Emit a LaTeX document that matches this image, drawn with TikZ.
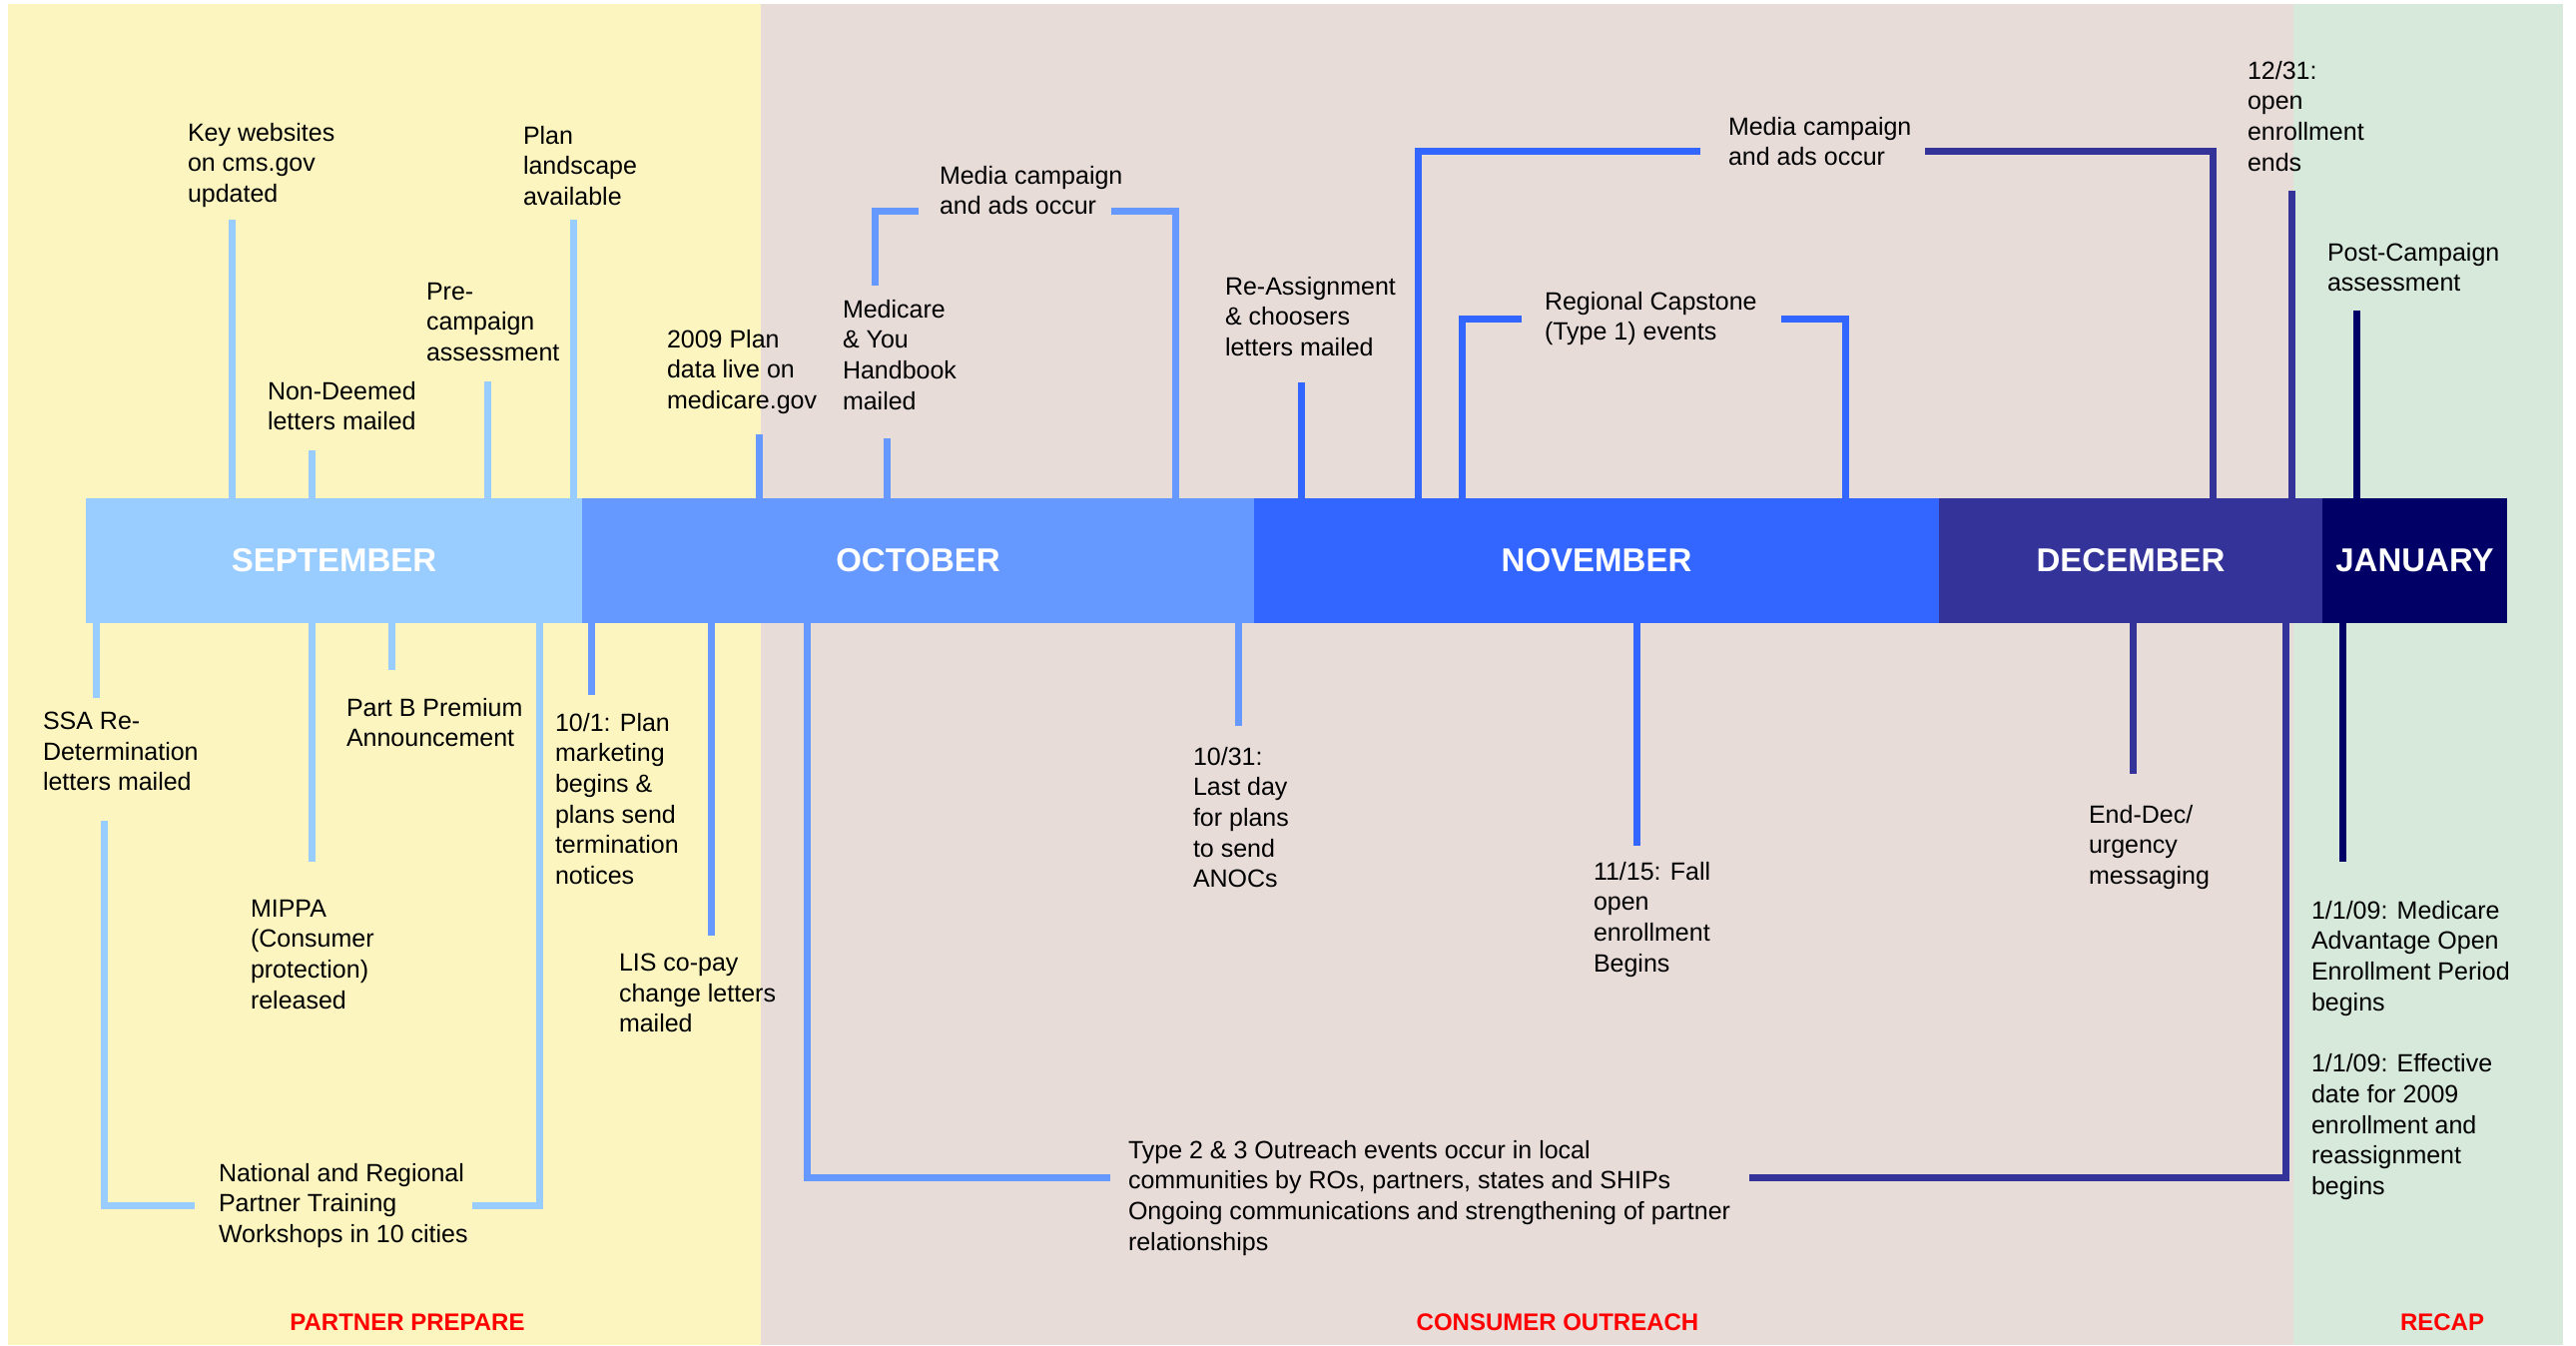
\documentclass[tikz,border=0pt]{standalone}
\usepackage{fontspec}
\setmainfont{Liberation Sans}
\definecolor{bgY}{RGB}{252,245,192}
\definecolor{bgP}{RGB}{232,220,217}
\definecolor{bgG}{RGB}{214,233,219}
\definecolor{cSep}{RGB}{153,204,255}
\definecolor{cOct}{RGB}{102,153,255}
\definecolor{cNov}{RGB}{51,102,255}
\definecolor{cDec}{RGB}{51,51,153}
\definecolor{cJan}{RGB}{0,0,102}
\tikzset{
  lbl/.style={anchor=north west, inner sep=0pt, outer sep=0pt, align=left, text=black,
    font=\fontsize{25}{30.7}\selectfont},
  month/.style={draw=none, rectangle, minimum height=125pt, inner sep=0pt, outer sep=0pt,
    text=white, font=\fontsize{33}{36}\selectfont\bfseries},
  phase/.style={anchor=north, inner sep=0pt, text=red, font=\fontsize{24}{26}\selectfont\bfseries},
  tickln/.style={line width=7pt},
  brk/.style={line width=7pt, line join=miter},
}
\begin{document}
\begin{tikzpicture}[x=1pt,y=-1pt]
\useasboundingbox (0,0) rectangle (2580,1347);
% phase backgrounds
\fill[bgY] (8,4) rectangle (762,1347);
\fill[bgP] (762,4) rectangle (2297,1347);
\fill[bgG] (2297,4) rectangle (2567,1347);

% month bar
\node[month, fill=cSep, minimum width=497pt] (sep) at (334.5,561.5) {SEPTEMBER};
\node[month, fill=cOct, minimum width=673pt] (oct) at (919.5,561.5) {OCTOBER};
\node[month, fill=cNov, minimum width=686pt] (nov) at (1599,561.5) {NOVEMBER};
\node[month, fill=cDec, minimum width=384pt] (dec) at (2134,561.5) {DECEMBER};
\node[month, fill=cJan, minimum width=185pt] (jan) at (2418.5,561.5) {JANUARY};

% ---------- labels above ----------
\node[lbl] (kw) at (188,123) {Key websites\\on cms.gov\\updated};
\node[lbl] (nd) at (268,382) {Non-Deemed\\letters mailed};
\node[lbl] (pc) at (427,283) {Pre-\\campaign\\assessment};
\node[lbl] (pl) at (524,126) {Plan\\landscape\\available};
\node[lbl] (p09) at (668,330) {2009 Plan\\data live on\\medicare.gov};
\node[lbl] (myh) at (844,300) {Medicare\\\& You\\Handbook\\mailed};
\node[lbl] (mo) at (941,166) {Media campaign\\and ads occur};
\node[lbl] (ra) at (1227,277) {Re-Assignment\\\& choosers\\letters mailed};
\node[lbl] (mn) at (1731,117) {Media campaign\\and ads occur};
\node[lbl] (rc) at (1547,292) {Regional Capstone\\(Type 1) events};
\node[lbl] (e1231) at (2251,61) {12/31:\\open\\enrollment\\ends};
\node[lbl] (post) at (2331,243) {Post-Campaign\\assessment};

% ---------- labels below ----------
\node[lbl] (ssa) at (43,713) {SSA Re-\\Determination\\letters mailed};
\node[lbl] (nat) at (219,1165) {National and Regional\\Partner Training\\Workshops in 10 cities};
\node[lbl] (mippa) at (251,901) {MIPPA\\(Consumer\\protection)\\released};
\node[lbl] (partb) at (347,699) {Part B Premium\\Announcement};
\node[lbl] (p101) at (556,714) {10/1: Plan\\marketing\\begins \&\\plans send\\termination\\notices};
\node[lbl] (lis) at (620,955) {LIS co-pay\\change letters\\mailed};
\node[lbl] (t23) at (1130,1142) {Type 2 \& 3 Outreach events occur in local\\communities by ROs, partners, states and SHIPs\\Ongoing communications and strengthening of partner\\relationships};
\node[lbl] (d1031) at (1195,748) {10/31:\\Last day\\for plans\\to send\\ANOCs};
\node[lbl] (d1115) at (1596,863) {11/15: Fall\\open\\enrollment\\Begins};
\node[lbl] (ed) at (2092,806) {End-Dec/\\urgency\\messaging};
\node[lbl] (j1) at (2315,902) {1/1/09: Medicare\\Advantage Open\\Enrollment Period\\begins\\[30.7pt]1/1/09: Effective\\date for 2009\\enrollment and\\reassignment\\begins};

% phase labels
\node[phase] (ph1) at (408,1316) {PARTNER PREPARE};
\node[phase] (ph2) at (1560,1316) {CONSUMER OUTREACH};
\node[phase] (ph3) at (2446,1316) {RECAP};

% ---------- tick ends ----------
\coordinate (t-kw) at (232,220);
\coordinate (t-nd) at (312,451);
\coordinate (t-pc) at (488,382);
\coordinate (t-pl) at (574,220);
\coordinate (t-p09) at (760,435);
\coordinate (t-myh) at (888,439);
\coordinate (t-ra) at (1303,383);
\coordinate (t-e1231) at (2295,191);
\coordinate (t-post) at (2360,311);
\coordinate (t-ssa) at (96,699);
\coordinate (t-mippa) at (312,863);
\coordinate (t-partb) at (392,671);
\coordinate (t-p101) at (592,696);
\coordinate (t-lis) at (712,937);
\coordinate (t-d1031) at (1240,727);
\coordinate (t-d1115) at (1639,847);
\coordinate (t-ed) at (2136,775);
\coordinate (t-j1) at (2346,863);

% ticks above
\draw[tickln, cSep] (t-kw) -- (t-kw |- sep.north);
\draw[tickln, cSep] (t-nd) -- (t-nd |- sep.north);
\draw[tickln, cSep] (t-pc) -- (t-pc |- sep.north);
\draw[tickln, cSep] (t-pl) -- (t-pl |- sep.north);
\draw[tickln, cOct] (t-p09) -- (t-p09 |- oct.north);
\draw[tickln, cOct] (t-myh) -- (t-myh |- oct.north);
\draw[tickln, cNov] (t-ra) -- (t-ra |- nov.north);
\draw[tickln, cDec] (t-e1231) -- (t-e1231 |- dec.north);
\draw[tickln, cJan] (t-post) -- (t-post |- jan.north);
% ticks below
\draw[tickln, cSep] (t-ssa) -- (t-ssa |- sep.south);
\draw[tickln, cSep] (t-mippa) -- (t-mippa |- sep.south);
\draw[tickln, cSep] (t-partb) -- (t-partb |- sep.south);
\draw[tickln, cOct] (t-p101) -- (t-p101 |- oct.south);
\draw[tickln, cOct] (t-lis) -- (t-lis |- oct.south);
\draw[tickln, cOct] (t-d1031) -- (t-d1031 |- oct.south);
\draw[tickln, cNov] (t-d1115) -- (t-d1115 |- nov.south);
\draw[tickln, cDec] (t-ed) -- (t-ed |- dec.south);
\draw[tickln, cJan] (t-j1) -- (t-j1 |- jan.south);

% ---------- brackets ----------
% Media campaign (October)
\coordinate (mo-a) at (876,286);
\coordinate (mo-b) at (920,211);
\coordinate (mo-c) at (1113,211);
\coordinate (mo-d) at (1177,499);
\draw[brk, cOct] (mo-a) |- (mo-b);
\draw[brk, cOct] (mo-c) -| (mo-d);
% Media campaign (Nov/Dec)
\coordinate (mn-a) at (1420,499);
\coordinate (mn-b) at (1703,151);
\coordinate (mn-c) at (1928,151);
\coordinate (mn-d) at (2216,499);
\draw[brk, cNov] (mn-a) |- (mn-b);
\draw[brk, cDec] (mn-c) -| (mn-d);
% Regional Capstone
\coordinate (rc-a) at (1464,499);
\coordinate (rc-b) at (1524,319);
\coordinate (rc-c) at (1784,319);
\coordinate (rc-d) at (1848,499);
\draw[brk, cNov] (rc-a) |- (rc-b);
\draw[brk, cNov] (rc-c) -| (rc-d);
% National and Regional Partner Training
\coordinate (nat-a) at (104,822);
\coordinate (nat-b) at (195,1207);
\coordinate (nat-c) at (473,1207);
\coordinate (nat-d) at (540,624);
\draw[brk, cSep] (nat-a) |- (nat-b);
\draw[brk, cSep] (nat-c) -| (nat-d);
% Type 2 & 3 outreach
\coordinate (t23-a) at (808,624);
\coordinate (t23-b) at (1112,1179);
\coordinate (t23-c) at (1752,1179);
\coordinate (t23-d) at (2289,624);
\draw[brk, cOct] (t23-a) |- (t23-b);
\draw[brk, cDec] (t23-c) -| (t23-d);
\end{tikzpicture}
\end{document}
